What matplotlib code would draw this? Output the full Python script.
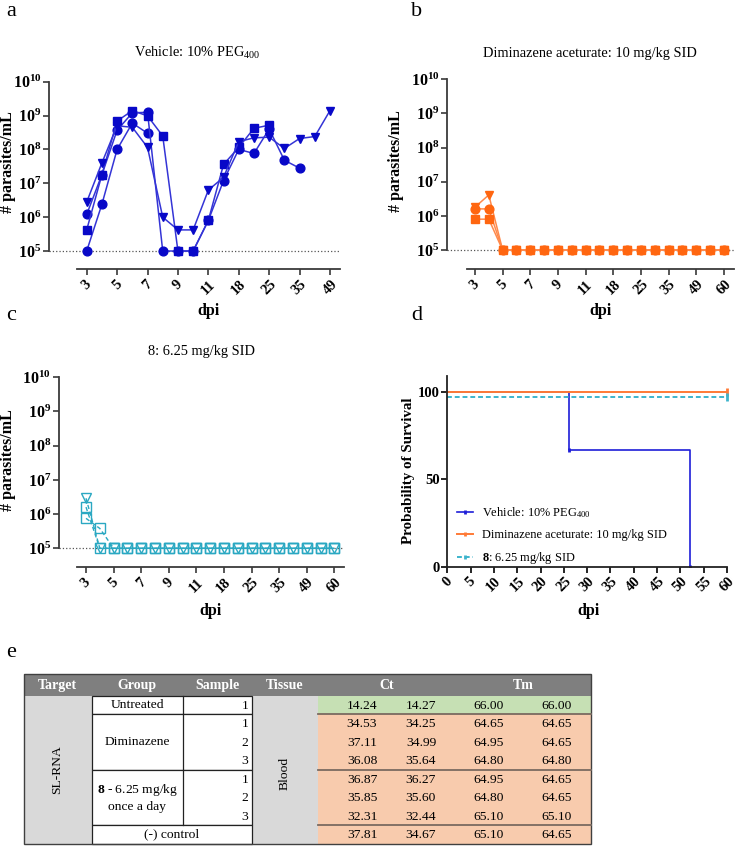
import numpy as np
import matplotlib
matplotlib.use("Agg")
import matplotlib.pyplot as plt
from matplotlib.patches import Rectangle

plt.rcParams['font.family'] = ['Liberation Serif', 'DejaVu Serif']
plt.rcParams['mathtext.fontset'] = 'custom'
plt.rcParams['mathtext.rm'] = 'Liberation Serif'
plt.rcParams['mathtext.it'] = 'Liberation Serif:italic'
plt.rcParams['mathtext.bf'] = 'Liberation Serif:bold'

nan = np.nan

# ---- panel a: vehicle ----
days_a = [3, 4, 5, 6, 7, 8, 9, 10, 11, 14, 18, 21, 25, 30, 35, 42, 49]
veh_circle1 = [1e5, 2.4e6, 1e8, 6e8, 3e8] + [nan] * 12
veh_circle2 = [1.2e6, 1.8e7, 3.7e8, 1.2e9, 1.25e9, 1e5, 1e5, 1e5, 8e5, 1.2e7,
               1e8, 7.6e7, 4e8, 4.8e7, 2.8e7, nan, nan]
veh_square = [4.2e5, 1.8e7, 6.9e8, 1.4e9, 9.8e8, 2.5e8, 1e5, 1e5, 8e5, 3.6e7,
              1.15e8, 4.2e8, 5.2e8, nan, nan, nan, nan]
veh_tri = [2.8e6, 4e7, 5e8, 4.5e8, 1.15e8, 1e6, 4.2e5, 4.2e5, 6.3e6, 1.5e7,
           1.7e8, 2.2e8, 2.3e8, 1.07e8, 2.1e8, 2.4e8, 1.4e9]

# ---- panels b, c ----
days_bc = [3, 4, 5, 6, 7, 8, 9, 10, 11, 14, 18, 21, 25, 30, 35, 42, 49, 54, 60]
dim_circle = [1.6e6, 1.6e6] + [1e5] * 17
dim_tri = [1.8e6, 4.1e6] + [1e5] * 17
dim_square = [8e5, 8e5] + [1e5] * 17
cpd_tri = [2.9e6] + [1e5] * 18
cpd_sq1 = [1.6e6] + [1e5] * 18
cpd_sq2 = [7.5e5, 3.8e5] + [1e5] * 17

# ---- panel d: survival ----
veh_t = [0, 26, 52]
veh_s = [100, 66.7, 0]
dim_t = [0, 60]
dim_s = [100, 100]
cpd_t = [0, 60]
cpd_s = [97, 97]

# ---- panel e: table ----
groups = ['Untreated', 'Diminazene', r'$\mathbf{8}$ - 6.25 mg/kg' + '\nonce a day', '(-) control']
group_rows = [1, 3, 3, 1]
samples = ['1', '1', '2', '3', '1', '2', '3', '']
ct1 = [14.24, 34.53, 37.11, 36.08, 36.87, 35.85, 32.31, 37.81]
ct2 = [14.27, 34.25, 34.99, 35.64, 36.27, 35.60, 32.44, 34.67]
tm1 = [66.00, 64.65, 64.95, 64.80, 64.95, 64.80, 65.10, 65.10]
tm2 = [66.00, 64.65, 64.65, 64.80, 64.65, 64.65, 65.10, 64.65]

W, H = 740, 846
fig = plt.figure(figsize=(W / 100, H / 100), dpi=100)


def px_axes(left, top, right, bottom):
    return fig.add_axes([left / W, 1 - bottom / H, (right - left) / W, (bottom - top) / H])


def ftext(x, y, s, **kw):
    fig.text(x / W, 1 - y / H, s, **kw)


spine_c = '#3a3a3a'


def style_log(ax, xlim, xstart, ylo):
    ax.set_yscale('log')
    ax.set_ylim(ylo, 1e10)
    ax.set_xlim(*xlim)
    for s in ['top', 'right']:
        ax.spines[s].set_visible(False)
    ax.spines['left'].set_bounds(1e5, 1e10)
    ax.spines['bottom'].set_bounds(xstart, xlim[1])
    for s in ['left', 'bottom']:
        ax.spines[s].set_color(spine_c)
        ax.spines[s].set_linewidth(1.3)
    dec = [1e5, 1e6, 1e7, 1e8, 1e9, 1e10]
    ax.set_yticks(dec)
    ax.set_yticklabels([r'$\mathbf{10^{%d}}$' % int(np.log10(d)) for d in dec])
    ax.yaxis.set_minor_locator(matplotlib.ticker.NullLocator())
    ax.tick_params(axis='y', length=4, width=1.2, color=spine_c, pad=1.5, labelsize=11.5)
    ax.tick_params(axis='x', length=4, width=1.2, color=spine_c, pad=2, labelsize=10.5)
    ax.axhline(1e5, ls=':', color='#555555', lw=0.9, zorder=0)


def set_cat_ticks(ax, days):
    pos = np.arange(len(days))
    ax.set_xticks(pos[::2])
    ax.set_xticklabels([str(d) for d in days[::2]], rotation=45, ha='center',
                       fontweight='bold')


# panel a
blue_m, blue_l = '#0808C8', '#3434D6'
axa = px_axes(49.3, 81.7, 340, 269.3)
xa = np.arange(len(days_a))
for vals, mk in [(veh_circle1, 'o'), (veh_circle2, 'o'), (veh_square, 's'), (veh_tri, 'v')]:
    axa.plot(xa, vals, color=blue_l, lw=1.1, marker=mk, ms=6.3 if mk != 's' else 6,
             mfc=blue_m, mec=blue_m)
style_log(axa, (-2.46, 16.66), -0.66, 10 ** 4.46)
set_cat_ticks(axa, days_a)

# panel b
or_m, or_l = '#FF6610', '#FF8A4C'
axb = px_axes(447.3, 79.3, 734, 269.3)
xb = np.arange(len(days_bc))
for vals, mk in [(dim_tri, 'v'), (dim_circle, 'o'), (dim_square, 's')]:
    axb.plot(xb, vals, color=or_l, lw=1.1, marker=mk, ms=6.3 if mk != 's' else 6,
             mfc=or_m, mec=or_m)
style_log(axb, (-2.0, 18.73), -0.6, 10 ** 4.435)
set_cat_ticks(axb, days_bc)

# panel c
teal = '#2AA8C2'
axc = px_axes(58.7, 377.3, 344, 567.3)
for vals, mk in [(cpd_sq1, 's'), (cpd_sq2, 's'), (cpd_tri, 'v')]:
    axc.plot(xb, vals, color=teal, lw=1.0, ls=(0, (3, 2)), marker=mk,
             ms=7.5 if mk == 's' else 7, mfc='none', mec=teal, mew=1.0)
style_log(axc, (-1.98, 18.7), -0.63, 10 ** 4.444)
set_cat_ticks(axc, days_bc)

# panel d
axd = px_axes(447.3, 376, 727, 566.7)
axd.plot(veh_t + [veh_t[-1]], veh_s + [veh_s[-1]], drawstyle='steps-post', color='#1E1ED8',
         lw=1.2, marker='|', markevery=[1, 2], ms=3, mew=2,
         label='Vehicle: 10% PEG$_{400}$')
axd.plot(dim_t, dim_s, drawstyle='steps-post', color='#FF7A36', lw=1.4,
         marker='|', markevery=[1], ms=6, mew=2, clip_on=False,
         label='Diminazene aceturate: 10 mg/kg SID')
axd.plot(cpd_t, cpd_s, drawstyle='steps-post', color='#3DB4CC', lw=1.4, ls=(0, (2.5, 1.5)),
         marker='|', markevery=[1], ms=6, mew=2, clip_on=False,
         label=r'$\mathbf{8}$: 6.25 mg/kg SID')
axd.set_xlim(0, 60)
axd.set_ylim(0, 109.3)
for s in ['top', 'right']:
    axd.spines[s].set_visible(False)
for s in ['left', 'bottom']:
    axd.spines[s].set_color('#222222')
    axd.spines[s].set_linewidth(1.3)
axd.set_yticks([0, 50, 100])
axd.set_yticklabels(['0', '50', '100'], fontweight='bold')
axd.set_xticks(np.arange(0, 61, 5))
axd.set_xticklabels([str(v) for v in range(0, 61, 5)], rotation=45, ha='center',
                    fontweight='bold')
axd.tick_params(length=4, width=1.2, labelsize=10.5, pad=1.5)
leg = axd.legend(loc='upper left', bbox_to_anchor=(457 / W, 1 - 505 / H),
                 bbox_transform=fig.transFigure, frameon=False, fontsize=8.9,
                 handlelength=1.3, handletextpad=0.7, labelspacing=0.75,
                 borderpad=0, borderaxespad=0, numpoints=1)
for ln in leg.get_lines():
    ln.set_markersize(3)

# labels and titles
tkw = dict(ha='center', va='center', fontsize=10.4)
ftext(197, 53, 'Vehicle: 10% PEG$_{400}$', **tkw)
ftext(590, 53, 'Diminazene aceturate: 10 mg/kg SID', **tkw)
ftext(201, 352, '8: 6.25 mg/kg SID', **tkw)
for x, y in [(8, 162), (396, 161), (8.5, 460)]:
    ftext(x, y, '# parasites/mL', rotation=90, fontweight='bold', ha='center', va='center',
          fontsize=11.5)
ftext(408.5, 471, 'Probability of Survival', rotation=90, fontweight='bold',
      ha='center', va='center', fontsize=10.8)
for x, y in [(208, 311), (600, 311), (210, 611), (588, 611)]:
    ftext(x, y, 'dpi', fontweight='bold', ha='center', va='center', fontsize=11.5)
for x, y, s in [(11, 12, 'a'), (416.5, 12, 'b'), (11.5, 316, 'c'), (416.5, 316, 'd'),
                (11.5, 652, 'e')]:
    ftext(x, y, s, ha='center', va='center', fontsize=16)

# panel e table
tab = fig.add_axes([0, 0, 1, 1], zorder=-1)
tab.set_xlim(0, W)
tab.set_ylim(H, 0)
tab.axis('off')
cols = [24, 91.7, 182.7, 251.7, 318.3, 591]
head_top, head_bot, row_h = 674, 696, 18.5
n_rows = len(ct1)
tab_bot = head_bot + n_rows * row_h

tab.add_patch(Rectangle((cols[0], head_top), cols[-1] - cols[0], head_bot - head_top,
                        fc='#7F7F7F', ec='none'))
tab.add_patch(Rectangle((cols[0], head_bot), cols[1] - cols[0], tab_bot - head_bot,
                        fc='#D9D9D9', ec='none'))
tab.add_patch(Rectangle((cols[3], head_bot), cols[4] - cols[3], tab_bot - head_bot,
                        fc='#D9D9D9', ec='none'))
for i in range(n_rows):
    fc = '#C6E0B4' if i == 0 else '#F8CBAD'
    tab.add_patch(Rectangle((cols[4], head_bot + i * row_h), cols[5] - cols[4], row_h,
                            fc=fc, ec='none'))

hkw = dict(ha='center', va='center', color='white', fontweight='bold', fontsize=10)
for x, s in [(57.8, 'Target'), (137, 'Group'), (217, 'Sample'), (285, 'Tissue'),
             (386.5, 'Ct'), (523, 'Tm')]:
    tab.text(x, (head_top + head_bot) / 2 + 0.5, s, **hkw)

r0 = 0
for g, nr in zip(groups, group_rows):
    y0 = head_bot + r0 * row_h
    y1 = y0 + nr * row_h
    tab.add_patch(Rectangle((cols[1], y0), cols[3] - cols[1], y1 - y0, fc='white',
                            ec='#222222', lw=0.9))
    if samples[r0]:
        tab.plot([cols[2], cols[2]], [y0, y1], color='#222222', lw=0.9)
        gx = (cols[1] + cols[2]) / 2
    else:
        gx = (cols[1] + cols[3]) / 2
    tab.text(gx, (y0 + y1) / 2, g, ha='center', va='center', fontsize=9.7,
             linespacing=1.35)
    if r0 > 0:
        tab.plot([cols[4], cols[5]], [y0, y0], color='#7A6A60', lw=1.3)
    r0 += nr

for i in range(n_rows):
    yc = head_bot + (i + 0.5) * row_h + 0.5
    if samples[i]:
        tab.text(cols[3] - 3.5, yc, samples[i], ha='right', va='center', fontsize=9.7)
    for x, vals in zip([362, 421, 489, 557], [ct1, ct2, tm1, tm2]):
        tab.text(x, yc, '%.2f' % vals[i], ha='center', va='center', fontsize=9.7)

tab.text(57.5, (head_bot + tab_bot) / 2, 'SL-RNA', rotation=90, ha='center', va='center',
         fontsize=9.7)
tab.text(285, (head_bot + tab_bot) / 2 + 3, 'Blood', rotation=90, ha='center', va='center',
         fontsize=9.7)
tab.add_patch(Rectangle((cols[0], head_top), cols[-1] - cols[0], tab_bot - head_top,
                        fc='none', ec='#404040', lw=1.0))

fig.savefig('out.png', dpi=100)
